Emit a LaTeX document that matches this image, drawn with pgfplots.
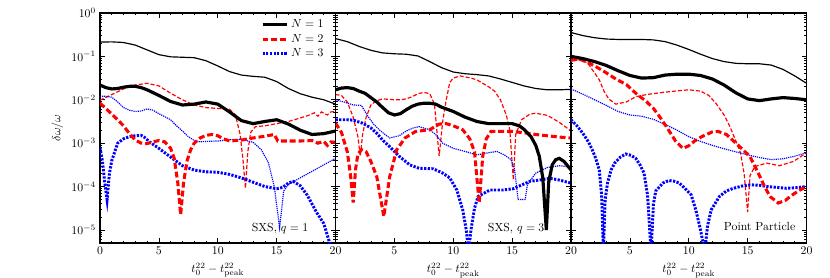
\documentclass[border=0pt]{standalone}
\usepackage{pgfplots}
\pgfplotsset{compat=1.18}
\pgfplotsset{
  mypanel/.style={
    width=200.2pt, height=195.5pt, scale only axis,
    xmin=0, xmax=20, ymin=5e-6, ymax=1,
    xtick={0,5,10,15,20}, minor x tick num=4,
    ytick={1e-5,1e-4,1e-3,1e-2,1e-1,1},
    minor ytick={6e-6,7e-6,8e-6,9e-6,2e-5,3e-5,4e-5,5e-5,6e-5,7e-5,8e-5,9e-5,2e-4,3e-4,4e-4,5e-4,6e-4,7e-4,8e-4,9e-4,2e-3,3e-3,4e-3,5e-3,6e-3,7e-3,8e-3,9e-3,2e-2,3e-2,4e-2,5e-2,6e-2,7e-2,8e-2,9e-2,0.2,0.3,0.4,0.5,0.6,0.7,0.8,0.9},
    major tick length=4pt, minor tick length=2pt,
    every tick/.style={black, line width=0.6pt},
    axis line style={line width=1.1pt},
    xlabel={$t_0^{22}-t_{\mathrm{peak}}^{22}$},
  },
}
\tikzset{
  thinblack/.style={black, line width=1.0pt},
  thickblack/.style={black, line width=2.7pt},
  thinred/.style={red, line width=1.0pt, dash pattern=on 3.4pt off 1.7pt},
  thickred/.style={red, line width=2.6pt, dash pattern=on 5pt off 2.5pt},
  thinblue/.style={blue, line width=1.0pt, dash pattern=on 1pt off 0.8pt},
  thickblue/.style={blue, line width=2.5pt, dash pattern=on 1.9pt off 1.2pt},
}
\begin{document}
\begin{tikzpicture}
\useasboundingbox (-85pt,-28.9pt) rectangle (620.5pt,206.55pt);

% ---------------- Panel 1: SXS q=1 ----------------
\begin{axis}[ymode=log, mypanel, name=p1, at={(0pt,0pt)}, anchor=south west,
  ylabel={$\delta\omega/\omega$},
  reverse legend,
  legend style={draw=none, fill=none, at={(1,1)}, anchor=north east, xshift=-5pt, yshift=-1.5pt, cells={anchor=west}},
  legend image code/.code={\draw[#1] (0pt,0pt) -- (21pt,0pt);},
]
\addplot[thinblack, forget plot] table[row sep=\\, y expr=10^(\thisrow{y})] {x y\\
0 -0.67\\ 1 -0.665\\ 2 -0.68\\ 3 -0.74\\ 4 -0.85\\ 5 -0.96\\ 6 -1.01\\ 7 -1.02\\ 8 -1.03\\ 9 -1.1\\ 10 -1.22\\ 11 -1.35\\ 12 -1.43\\ 13 -1.46\\ 14 -1.48\\ 15 -1.58\\ 16 -1.74\\ 17 -1.86\\ 18 -1.94\\ 19 -2.0\\ 20 -2.1\\};
\addplot[thinred, forget plot] table[row sep=\\, y expr=10^(\thisrow{y})] {x y\\
0 -2.01\\ 1 -1.88\\ 2 -1.75\\ 3 -1.66\\ 4 -1.62\\ 5 -1.68\\ 6 -1.85\\ 7 -2.0\\ 8 -2.12\\ 9 -2.18\\ 10 -2.2\\ 11 -2.22\\ 11.5 -2.35\\ 11.9 -2.8\\ 12.15 -3.4\\ 12.35 -4.04\\ 12.55 -3.2\\ 12.8 -2.75\\ 13.2 -2.62\\ 14 -2.6\\ 15 -2.55\\ 16 -2.5\\ 17 -2.42\\ 17.7 -2.36\\ 18.2 -2.3\\ 18.5 -2.38\\ 18.8 -2.28\\ 19.3 -2.35\\ 19.6 -2.28\\ 20 -2.27\\};
\addplot[thinblue, forget plot] table[row sep=\\, y expr=10^(\thisrow{y})] {x y\\
0 -1.92\\ 0.5 -1.92\\ 1 -1.94\\ 1.5 -2.05\\ 2 -2.18\\ 2.5 -2.24\\ 3 -2.27\\ 3.5 -2.26\\ 4 -2.21\\ 4.5 -2.24\\ 5 -2.32\\ 6 -2.46\\ 6.5 -2.6\\ 7 -2.72\\ 7.5 -2.85\\ 8 -2.94\\ 8.5 -2.97\\ 9 -2.96\\ 10 -2.95\\ 11 -2.92\\ 12 -2.91\\ 13 -2.98\\ 13.7 -3.15\\ 14.3 -3.45\\ 14.8 -4.0\\ 15.25 -4.95\\ 15.6 -4.1\\ 16 -3.95\\ 17 -3.8\\ 18 -3.65\\ 19 -3.5\\ 20 -3.35\\};
\addplot[thickblue] table[row sep=\\, y expr=10^(\thisrow{y})] {x y\\
0 -3.1\\ 0.2 -3.4\\ 0.4 -3.9\\ 0.6 -4.3\\ 0.8 -3.7\\ 1.0 -3.4\\ 1.5 -3.0\\ 2 -2.9\\ 2.5 -2.85\\ 3 -2.83\\ 3.5 -2.82\\ 3.8 -2.87\\ 4.2 -2.97\\ 5 -3.12\\ 6 -3.32\\ 7 -3.52\\ 8 -3.62\\ 9 -3.66\\ 10 -3.67\\ 11 -3.72\\ 12 -3.8\\ 13 -3.9\\ 14 -4.0\\ 15 -4.05\\ 15.5 -4.02\\ 16 -3.92\\ 16.4 -3.88\\ 17 -3.98\\ 17.6 -4.2\\ 18.4 -4.6\\ 19 -4.85\\ 19.5 -5.3\\ 20 -5.6\\};
\addlegendentry{$N=3$}
\addplot[thickred] table[row sep=\\, y expr=10^(\thisrow{y})] {x y\\
0 -2.08\\ 0.5 -2.2\\ 1 -2.33\\ 1.5 -2.46\\ 2 -2.6\\ 2.5 -2.78\\ 3 -2.93\\ 3.5 -3.0\\ 4 -3.01\\ 4.5 -2.97\\ 5 -2.94\\ 5.5 -2.97\\ 6 -3.12\\ 6.3 -3.35\\ 6.6 -3.9\\ 6.85 -4.65\\ 7.1 -3.9\\ 7.4 -3.4\\ 7.7 -3.15\\ 8 -3.0\\ 8.5 -2.88\\ 9 -2.82\\ 9.5 -2.8\\ 10 -2.83\\ 10.5 -2.9\\ 11 -2.95\\ 12 -2.93\\ 13 -2.88\\ 14 -2.84\\ 14.8 -2.8\\ 15.1 -2.95\\ 16 -2.95\\ 17 -2.95\\ 18 -2.94\\ 18.5 -3.0\\ 19 -2.96\\ 19.3 -3.05\\ 19.6 -2.97\\ 20 -2.98\\};
\addlegendentry{$N=2$}
\addplot[thickblack] table[row sep=\\, y expr=10^(\thisrow{y})] {x y\\
0 -1.66\\ 0.5 -1.72\\ 1 -1.75\\ 1.5 -1.74\\ 2 -1.71\\ 2.5 -1.69\\ 3 -1.69\\ 3.5 -1.72\\ 4 -1.77\\ 5 -1.9\\ 6 -2.04\\ 7 -2.12\\ 8 -2.1\\ 9 -2.05\\ 10 -2.1\\ 11 -2.28\\ 12 -2.48\\ 13 -2.55\\ 14 -2.5\\ 15 -2.46\\ 16 -2.56\\ 17 -2.7\\ 18 -2.8\\ 19 -2.78\\ 20 -2.72\\};
\addlegendentry{$N=1$}
\node[anchor=base east, inner sep=0pt] at (axis cs:17.7,9.1e-6) {SXS, $q=1$};
\end{axis}

% ---------------- Panel 2: SXS q=3 ----------------
\begin{axis}[ymode=log, mypanel, name=p2, at={(200.2pt,0pt)}, anchor=south west,
  xticklabels={,5,10,15,20}, yticklabels={},
]
\addplot[thinblack] table[row sep=\\, y expr=10^(\thisrow{y})] {x y\\
0 -0.59\\ 1 -0.66\\ 2 -0.77\\ 3 -0.86\\ 4 -0.92\\ 5 -0.94\\ 6 -0.95\\ 7 -0.99\\ 8 -1.12\\ 9 -1.26\\ 10 -1.36\\ 11 -1.4\\ 12 -1.42\\ 13 -1.45\\ 14 -1.52\\ 15 -1.6\\ 16 -1.68\\ 17 -1.74\\ 18 -1.77\\ 19 -1.77\\ 20 -1.76\\};
\addplot[thinred] table[row sep=\\, y expr=10^(\thisrow{y})] {x y\\
0 -1.88\\ 0.5 -1.9\\ 1 -2.05\\ 1.5 -2.4\\ 1.9 -2.85\\ 2.1 -3.3\\ 2.3 -2.8\\ 2.6 -2.4\\ 3 -2.12\\ 3.5 -2.02\\ 4 -1.98\\ 5 -2.0\\ 5.5 -2.0\\ 6 -1.98\\ 6.5 -1.93\\ 7 -1.86\\ 7.5 -1.83\\ 8 -1.86\\ 8.4 -2.1\\ 8.8 -3.3\\ 9.1 -2.5\\ 9.4 -2.0\\ 9.7 -1.6\\ 10 -1.5\\ 10.6 -1.45\\ 11.5 -1.5\\ 12 -1.54\\ 13 -1.7\\ 13.5 -1.8\\ 14 -2.0\\ 14.5 -2.35\\ 14.8 -2.7\\ 15.1 -3.85\\ 15.3 -2.8\\ 15.8 -2.46\\ 16.5 -2.33\\ 17 -2.31\\ 18 -2.36\\ 19 -2.52\\ 20 -2.72\\};
\addplot[thinblue] table[row sep=\\, y expr=10^(\thisrow{y})] {x y\\
0 -2.0\\ 0.7 -2.05\\ 1.5 -2.12\\ 2.2 -2.13\\ 2.75 -2.38\\ 3.2 -2.55\\ 3.7 -2.69\\ 4.2 -2.8\\ 4.6 -2.88\\ 5.4 -2.83\\ 6 -2.72\\ 6.6 -2.65\\ 7.1 -2.62\\ 8 -2.69\\ 8.5 -2.8\\ 9.1 -3.0\\ 10 -3.12\\ 11 -3.19\\ 12 -3.27\\ 13 -3.22\\ 13.7 -3.19\\ 14.4 -3.28\\ 14.9 -3.38\\ 15.2 -3.6\\ 15.5 -4.3\\ 16.1 -4.3\\ 16.3 -3.95\\ 17 -3.69\\ 18 -3.56\\ 19 -3.52\\ 20 -3.55\\};
\addplot[thickblue] table[row sep=\\, y expr=10^(\thisrow{y})] {x y\\
0 -2.46\\ 1 -2.46\\ 1.5 -2.47\\ 2.3 -2.54\\ 3 -2.65\\ 3.5 -2.77\\ 4 -2.93\\ 4.6 -3.08\\ 5.4 -3.3\\ 6.3 -3.5\\ 7.1 -3.58\\ 8.3 -3.59\\ 9.1 -3.69\\ 9.7 -3.8\\ 10.3 -4.08\\ 10.8 -4.54\\ 11.1 -5.0\\ 11.3 -5.5\\ 11.5 -5.0\\ 11.8 -4.5\\ 12.1 -4.23\\ 13.1 -4.08\\ 14.2 -4.08\\ 15.1 -4.05\\ 15.5 -4.0\\ 16.5 -3.88\\ 17.3 -3.85\\ 18.2 -3.81\\ 19 -3.85\\ 20 -3.92\\};
\addplot[thickred] table[row sep=\\, y expr=10^(\thisrow{y})] {x y\\
0 -2.54\\ 0.5 -2.75\\ 1 -3.2\\ 1.3 -3.8\\ 1.5 -4.37\\ 1.7 -3.6\\ 1.9 -3.25\\ 2.2 -3.15\\ 2.6 -3.2\\ 3.0 -3.42\\ 3.5 -3.77\\ 4.1 -4.69\\ 4.6 -3.77\\ 5.2 -3.15\\ 5.9 -2.88\\ 6.8 -2.73\\ 8 -2.69\\ 8.8 -2.56\\ 9.4 -2.55\\ 10 -2.6\\ 10.8 -2.69\\ 11.4 -2.9\\ 11.8 -3.2\\ 12.2 -4.38\\ 12.5 -3.3\\ 12.8 -2.9\\ 13.2 -2.73\\ 14 -2.73\\ 15 -2.73\\ 16 -2.76\\ 17 -2.8\\ 18 -2.83\\ 19 -2.86\\ 20 -2.88\\};
\addplot[thickblack] table[row sep=\\, y expr=10^(\thisrow{y})] {x y\\
0 -1.77\\ 0.5 -1.73\\ 1 -1.72\\ 1.5 -1.74\\ 2 -1.8\\ 2.5 -1.85\\ 3 -1.95\\ 3.5 -2.05\\ 4 -2.18\\ 4.5 -2.3\\ 5 -2.35\\ 5.5 -2.32\\ 6 -2.23\\ 6.5 -2.15\\ 7 -2.1\\ 7.5 -2.08\\ 8 -2.08\\ 8.5 -2.1\\ 9 -2.17\\ 10 -2.27\\ 11 -2.4\\ 12 -2.5\\ 13 -2.55\\ 14 -2.55\\ 15 -2.55\\ 15.6 -2.6\\ 16 -2.68\\ 16.6 -2.85\\ 17 -3.05\\ 17.3 -3.3\\ 17.6 -3.8\\ 17.9 -5.0\\ 18.1 -3.9\\ 18.4 -3.5\\ 18.7 -3.38\\ 19 -3.35\\ 19.4 -3.42\\ 20 -3.62\\};
\node[anchor=base east, inner sep=0pt] at (axis cs:17.75,9.3e-6) {SXS, $q=3$};
\end{axis}

% ---------------- Panel 3: Point Particle ----------------
\begin{axis}[ymode=log, mypanel, name=p3, at={(400.35pt,0pt)}, anchor=south west,
  xticklabels={,5,10,15,20}, yticklabels={},
]
\addplot[thinblack] table[row sep=\\, y expr=10^(\thisrow{y})] {x y\\
0 -0.45\\ 1 -0.52\\ 2 -0.57\\ 3 -0.6\\ 4 -0.61\\ 5 -0.61\\ 6 -0.61\\ 7 -0.62\\ 8 -0.66\\ 9 -0.74\\ 10 -0.84\\ 11 -0.95\\ 12 -1.05\\ 13 -1.12\\ 14 -1.16\\ 15 -1.17\\ 16 -1.17\\ 17 -1.2\\ 18 -1.3\\ 19 -1.45\\ 20 -1.62\\};
\addplot[thinred] table[row sep=\\, y expr=10^(\thisrow{y})] {x y\\
0 -1.08\\ 0.8 -1.08\\ 1.4 -1.15\\ 2 -1.38\\ 2.4 -1.54\\ 2.8 -1.8\\ 3.2 -1.98\\ 3.8 -2.1\\ 4.7 -2.05\\ 5.5 -1.93\\ 6.4 -1.88\\ 7.8 -1.83\\ 9.2 -1.79\\ 10 -1.77\\ 11 -1.8\\ 11.7 -1.9\\ 12.3 -2.08\\ 13 -2.35\\ 13.5 -2.62\\ 14 -2.95\\ 14.4 -3.23\\ 14.7 -3.7\\ 15.0 -4.58\\ 15.2 -3.75\\ 15.6 -3.54\\ 16.6 -3.46\\ 17.7 -3.52\\ 18.9 -3.42\\ 20 -3.22\\};
\addplot[thinblue] table[row sep=\\, y expr=10^(\thisrow{y})] {x y\\
0 -1.75\\ 1 -1.87\\ 2 -2.0\\ 3 -2.13\\ 4 -2.27\\ 5 -2.35\\ 6 -2.38\\ 7 -2.45\\ 8 -2.57\\ 9 -2.7\\ 10 -2.85\\ 11 -2.96\\ 12 -3.05\\ 13 -3.13\\ 14 -3.2\\ 15 -3.27\\ 16 -3.33\\ 17 -3.38\\ 18 -3.36\\ 19 -3.3\\ 20 -3.22\\};
\addplot[thickblue] table[row sep=\\, y expr=10^(\thisrow{y})] {x y\\
0 -2.46\\ 0.5 -2.6\\ 1.0 -2.77\\ 1.5 -2.98\\ 1.8 -3.15\\ 2.1 -3.35\\ 2.4 -3.62\\ 2.6 -4.2\\ 2.75 -5.5\\ 2.9 -4.3\\ 3.1 -3.92\\ 3.4 -3.62\\ 3.7 -3.46\\ 4.2 -3.32\\ 4.65 -3.25\\ 5.1 -3.28\\ 5.5 -3.35\\ 5.9 -3.52\\ 6.2 -3.69\\ 6.5 -4.2\\ 6.8 -5.5\\ 7.0 -4.4\\ 7.2 -4.1\\ 7.8 -3.92\\ 8.3 -3.86\\ 8.8 -3.88\\ 9.2 -3.92\\ 9.7 -4.05\\ 10.2 -4.19\\ 10.6 -4.54\\ 11.0 -5.0\\ 11.35 -5.5\\ 11.6 -4.9\\ 11.9 -4.54\\ 12.6 -4.23\\ 13.2 -4.1\\ 13.8 -4.04\\ 14.5 -3.99\\ 15.2 -3.96\\ 16 -3.97\\ 16.6 -4.0\\ 17.5 -4.02\\ 18.3 -4.04\\ 19 -4.03\\ 20 -4.0\\};
\addplot[thickred] table[row sep=\\, y expr=10^(\thisrow{y})] {x y\\
0 -1.09\\ 0.7 -1.06\\ 1.5 -1.15\\ 2.2 -1.25\\ 3 -1.38\\ 3.8 -1.52\\ 4.7 -1.65\\ 5.5 -1.85\\ 6.4 -2.04\\ 7 -2.2\\ 7.5 -2.38\\ 8.1 -2.62\\ 8.9 -2.96\\ 9.5 -3.12\\ 10 -3.06\\ 10.5 -2.95\\ 11.1 -2.85\\ 12 -2.74\\ 12.5 -2.73\\ 13.2 -2.8\\ 14 -3.0\\ 14.6 -3.15\\ 15.2 -3.31\\ 15.9 -3.69\\ 16.4 -3.98\\ 16.9 -4.23\\ 17.6 -4.38\\ 18.2 -4.32\\ 18.6 -4.23\\ 19.3 -4.1\\ 20 -4.0\\};
\addplot[thickblack] table[row sep=\\, y expr=10^(\thisrow{y})] {x y\\
0 -1.0\\ 1 -1.05\\ 2 -1.12\\ 3 -1.21\\ 4 -1.33\\ 5 -1.44\\ 6 -1.5\\ 7 -1.49\\ 8 -1.43\\ 9 -1.41\\ 10 -1.41\\ 11 -1.44\\ 12 -1.52\\ 13 -1.66\\ 14 -1.84\\ 15 -1.98\\ 16 -2.02\\ 17 -1.98\\ 18 -1.95\\ 19 -1.97\\ 20 -2.0\\};
\node[anchor=base east, inner sep=0pt] at (axis cs:19.06,9.8e-6) {Point Particle};
\end{axis}
\end{tikzpicture}
\end{document}
